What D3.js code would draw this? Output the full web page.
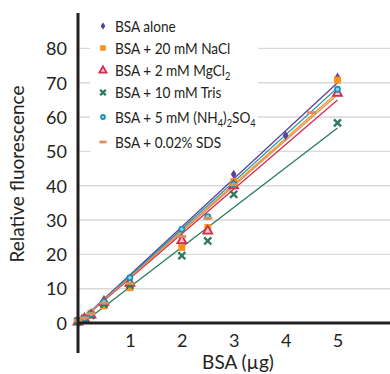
<!DOCTYPE html>
<html>
<head>
<meta charset="utf-8">
<script src="https://cdn.jsdelivr.net/npm/d3@7"></script>
<style>
  html, body { margin: 0; padding: 0; background: #fff; }
  svg { display: block; }
  text { font-family: Lato, "Open Sans", sans-serif; fill: #231f20; }
</style>
</head>
<body>
<svg id="chart" width="390" height="374"></svg>
<script>
// Series names and legend labels (subscripts marked with _{})
const seriesNames = ["BSA alone", "BSA + 20 mM NaCl", "BSA + 2 mM MgCl_{2}", "BSA + 10 mM Tris", "BSA + 5 mM (NH_{4})_{2}SO_{4}", "BSA + 0.02% SDS"];
const seriesColors = ["#5c4199", "#f7941d", "#d52b4c", "#2b7a5c", "#1a8fb2", "#d8925c"];
const seriesMarkers = ["dot", "square", "triangle", "cross", "ring", "dash"];

// Measured points (BSA amount in µg, relative fluorescence)
const bsaAloneX = [0, 0.125, 0.25, 0.5, 1, 2, 3, 4, 5];
const bsaAloneY = [0.5, 1.5, 2.8, 6.8, 12.6, 24.6, 43.3, 54.6, 71.6];
const naclX = [0, 0.125, 0.25, 0.5, 1, 2, 2.5, 3, 5];
const naclY = [0.8, 1.6, 2.8, 5.0, 10.3, 22.0, 27.8, 41.2, 70.8];
const mgcl2X = [0, 0.125, 0.25, 0.5, 1, 2, 2.5, 3, 5];
const mgcl2Y = [0.3, 1.2, 2.3, 6.0, 11.6, 24.0, 26.8, 40.0, 66.9];
const trisX = [0, 0.125, 0.25, 0.5, 1, 2, 2.5, 3, 5];
const trisY = [0.5, 1.2, 2.2, 5.5, 11.0, 19.6, 23.9, 37.5, 58.3];
const nh4X = [0, 0.125, 0.25, 0.5, 1, 2, 2.5, 3, 5];
const nh4Y = [0.6, 1.4, 2.6, 6.2, 13.2, 27.3, 31.0, 40.5, 68.1];
const sdsX = [0, 0.125, 0.25, 0.5, 1, 2, 2.5, 3, 4.5];
const sdsY = [0.7, 1.5, 2.7, 5.8, 11.5, 25.2, 30.5, 40.3, 61.3];

// Linear trend lines drawn from 0 to 5 µg: slope and intercept per series
const fitSlope = [14.0, 13.45, 13.0, 11.58, 13.7, 13.3];
const fitIntercept = [0.0, 0.0, 0.0, -1.1, 0.0, 0.0];
const fitRange = [0, 5];

const xTicks = [1, 2, 3, 4, 5];
const yTicks = [0, 10, 20, 30, 40, 50, 60, 70, 80];

const seriesX = [bsaAloneX, naclX, mgcl2X, trisX, nh4X, sdsX];
const seriesY = [bsaAloneY, naclY, mgcl2Y, trisY, nh4Y, sdsY];
const series = seriesNames.map((name, i) => ({
  name, color: seriesColors[i], marker: seriesMarkers[i],
  points: seriesX[i].map((x, j) => ({ x, y: seriesY[i][j] })),
  slope: fitSlope[i], intercept: fitIntercept[i]
}));

const svg = d3.select("#chart");
const x = d3.scaleLinear().domain([0, 6]).range([78, 389.4]);
const y = d3.scaleLinear().domain([0, 80]).range([323, 48.4]);

// Gridlines
svg.append("g").selectAll("line").data(yTicks.filter(d => d > 0)).join("line")
  .attr("x1", x(0)).attr("x2", 390)
  .attr("y1", d => y(d)).attr("y2", d => y(d))
  .attr("stroke", "#d9d9d9").attr("stroke-width", 1.4);

// Trend lines
const line = d3.line().x(d => x(d[0])).y(d => y(d[1]));
svg.append("g").selectAll("path").data(series).join("path")
  .attr("d", s => line(fitRange.map(v => [v, s.intercept + s.slope * v])))
  .attr("fill", "none").attr("stroke", s => s.color).attr("stroke-width", 1.3);

// Marker shapes
function drawMarker(g, type, color, k = 1) {
  if (type === "dot") {
    g.append("path").attr("d", d3.symbol(d3.symbolDiamond, 26 * k * k)()).attr("fill", color);
    g.append("circle").attr("r", 2.2 * k).attr("fill", color);
  } else if (type === "square") {
    g.append("rect").attr("x", -3.5 * k).attr("y", -3.5 * k).attr("width", 7 * k).attr("height", 7 * k).attr("fill", color);
  } else if (type === "triangle") {
    g.append("path").attr("d", d3.symbol(d3.symbolTriangle, 34 * k * k)()).attr("fill", "#f6c9d2")
      .attr("stroke", color).attr("stroke-width", 1.8);
  } else if (type === "cross") {
    g.append("path").attr("d", d3.symbol(d3.symbolX, 34 * k * k)()).attr("fill", "none")
      .attr("stroke", color).attr("stroke-width", 2.4);
  } else if (type === "ring") {
    g.append("circle").attr("r", 2.6 * k).attr("fill", "#8fd0e4").attr("stroke", color).attr("stroke-width", 1.6);
  } else if (type === "dash") {
    g.append("rect").attr("x", -4.5 * k).attr("y", -1.4).attr("width", 9 * k).attr("height", 2.8).attr("fill", color);
  }
}

// Data points
series.forEach(s => {
  const g = svg.append("g");
  s.points.forEach(p => {
    const m = g.append("g").attr("transform", `translate(${x(p.x)},${y(p.y)})`);
    drawMarker(m, s.marker, s.color);
  });
});

// Axes
svg.append("line").attr("x1", x(0)).attr("x2", 390).attr("y1", y(0)).attr("y2", y(0))
  .attr("stroke", "#231f20").attr("stroke-width", 3);
svg.append("line").attr("x1", x(0)).attr("x2", x(0)).attr("y1", 13).attr("y2", 353)
  .attr("stroke", "#231f20").attr("stroke-width", 3);

const yAxis = d3.axisLeft(y).tickValues(yTicks).tickFormat(d3.format("d")).tickSize(0).tickPadding(11);
svg.append("g").attr("transform", `translate(${x(0)},0)`).call(yAxis)
  .call(g => g.select(".domain").remove())
  .selectAll("text").attr("font-size", 18).attr("dy", "0.35em")
  .style("font-family", "Lato, sans-serif").attr("fill", "#231f20");

const xAxis = d3.axisBottom(x).tickValues(xTicks).tickFormat(d3.format("d")).tickSize(0).tickPadding(11);
svg.append("g").attr("transform", `translate(0,${y(0)})`).call(xAxis)
  .call(g => g.select(".domain").remove())
  .selectAll("text").attr("font-size", 18)
  .style("font-family", "Lato, sans-serif").attr("fill", "#231f20");

// Axis titles
svg.append("text").attr("x", 238).attr("y", 369).attr("text-anchor", "middle")
  .attr("font-size", 19).text("BSA (µg)");
svg.append("text").attr("transform", "translate(24,174) rotate(-90)").attr("text-anchor", "middle")
  .attr("font-size", 19).text("Relative fluorescence");

// Legend
const legend = svg.append("g");
legend.append("rect").attr("x", 90).attr("y", 12).attr("width", 168).attr("height", 143).attr("fill", "#fff");
const legendRowY = [26, 48, 70.5, 92.5, 117, 142];
series.forEach((s, i) => {
  const row = legend.append("g").attr("transform", `translate(0,${legendRowY[i]})`);
  drawMarker(row.append("g").attr("transform", "translate(103,0)"), s.marker, s.color, 0.8);
  // legend labels set in a slightly condensed width
  const t = row.append("text").attr("transform", "translate(115,5.5) scale(0.88,1)").attr("font-size", 15.5);
  let shift = 0;
  s.name.split(/(_\{[^}]*\})/).filter(Boolean).forEach(part => {
    if (part.startsWith("_{")) {
      t.append("tspan").attr("dy", 4 - shift).attr("font-size", 10.5).text(part.slice(2, -1));
      shift = 4;
    } else {
      t.append("tspan").attr("dy", -shift).text(part);
      shift = 0;
    }
  });
});
</script>
</body>
</html>
